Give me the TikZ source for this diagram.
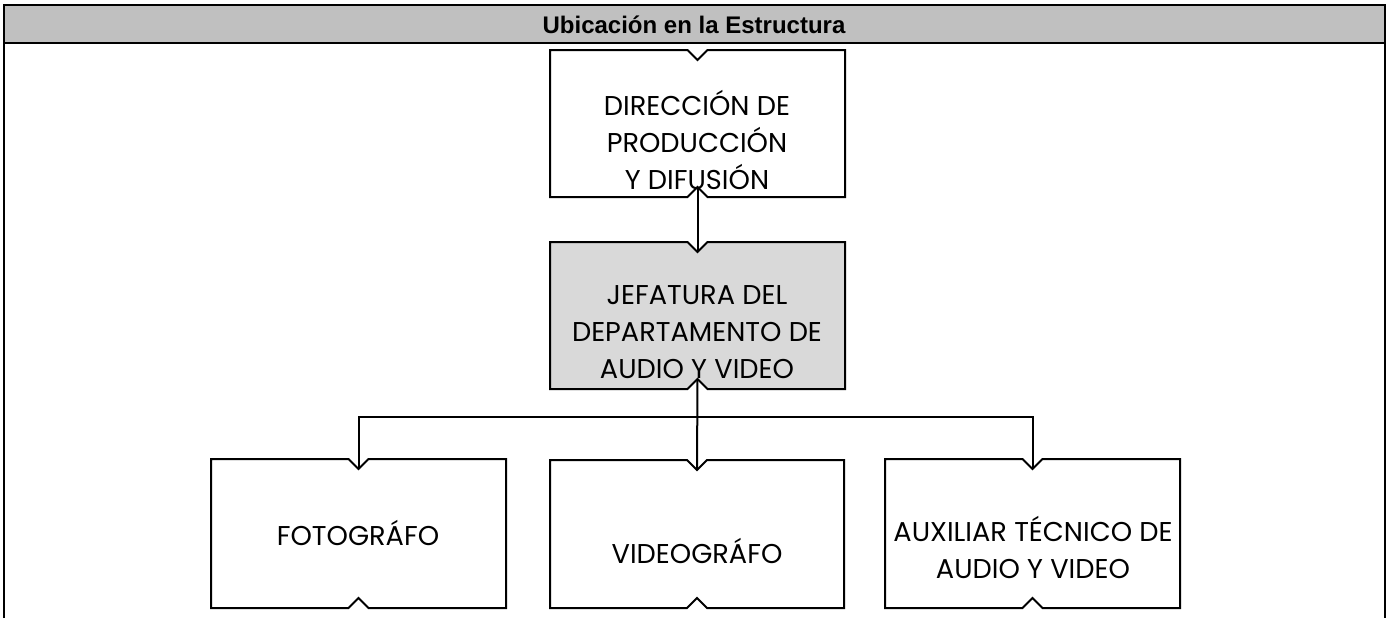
\documentclass[tikz,border=0pt]{standalone}
\usepackage{fontspec}
\setmainfont{Poppins}
\newfontfamily\headfont{Liberation Sans}
\begin{document}
\begin{tikzpicture}[x=0.75pt,y=-0.75pt,
  frameline/.style={line width=1.6pt,draw=black},
  boxline/.style={line width=1.5pt,draw=black,line join=miter},
  conn/.style={line width=1.5pt,draw=black},
  boxtext/.style={inner sep=0pt,align=center,font=\fontsize{20.4pt}{27.75pt}\selectfont,text=black},
  headtext/.style={inner sep=0pt,font=\headfont\bfseries\fontsize{18pt}{20pt}\selectfont}]
\useasboundingbox (0,0) rectangle (1386,618);
\definecolor{headgray}{HTML}{C0C0C0}
\definecolor{boxgray}{HTML}{D9D9D9}
% header and frame
\fill[headgray] (4,5) rectangle (1385,43);
\draw[frameline] (4,618) -- (4,5) -- (1385,5) -- (1385,618);
\draw[frameline] (4,43) -- (1385,43);
\node[headtext] (head) at (694,25) {Ubicación en la Estructura};
% notched box macro
\newcommand\nbox[6]{%
  \coordinate (#1-t) at ({(#2+#4)/2},{#3+10});
  \coordinate (#1-b) at ({(#2+#4)/2},{#5-10});
  \filldraw[boxline,fill=#6] (#2,#3) -- ({(#2+#4)/2-10},#3) -- (#1-t) -- ({(#2+#4)/2+10},#3) -- (#4,#3) -- (#4,#5) -- ({(#2+#4)/2+10},#5) -- (#1-b) -- ({(#2+#4)/2-10},#5) -- (#2,#5) -- cycle;
}
\nbox{A}{550}{50}{845}{197}{white}
\nbox{B}{550}{242}{845}{389}{boxgray}
\nbox{C}{211}{459}{506}{608}{white}
\nbox{D}{550}{460}{844}{608}{white}
\nbox{E}{885}{459}{1180}{608}{white}
% texts
\node[boxtext] (tA) at (697,140) {DIRECCIÓN DE\\PRODUCCIÓN\\Y DIFUSIÓN};
\node[boxtext] (tB) at (697,332) {JEFATURA DEL\\DEPARTAMENTO DE\\AUDIO Y VIDEO};
\node[boxtext] (tC) at (358,533) {FOTOGRÁFO};
\node[boxtext] (tD) at (697,551) {VIDEOGRÁFO};
\node[boxtext] (tE) at (1033,547) {AUXILIAR TÉCNICO DE\\AUDIO Y VIDEO};
% connectors
\coordinate (bus) at (697,417);
\draw[conn] (A-b) -- (B-t);
\draw[conn] (B-b) -- (D-t);
\draw[conn] (C-t) |- (bus) -| (E-t);
\end{tikzpicture}
\end{document}
